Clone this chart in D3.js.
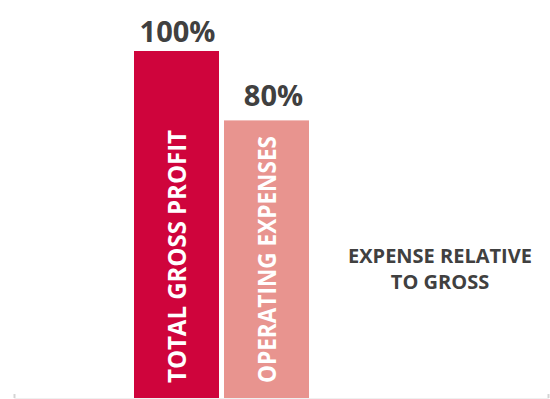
<!DOCTYPE html>
<html>
<head>
<meta charset="utf-8">
<script src="https://cdn.jsdelivr.net/npm/d3@7"></script>
<style>
  html, body { margin: 0; padding: 0; background: #fff; }
  svg { display: block; font-family: "Open Sans", "Noto Sans", sans-serif; }
</style>
</head>
<body>
<svg id="chart" width="550" height="399"></svg>
<script>
// Series shown as bars, with their values in percent
const series = ["TOTAL GROSS PROFIT", "OPERATING EXPENSES"];
const values = [100, 80];
const valueLabels = ["100%", "80%"];
const colors = ["#cf043c", "#e8948f"];
const categoryLabel = ["EXPENSE RELATIVE", "TO GROSS"];

// Text layout: offsets of each value label from its bar, and run length of the vertical names
const labelGaps = [9.5, 14];
const labelShifts = [1, 7];
const nameLengths = [253, 247];

const baseY = 398;
const svg = d3.select("#chart");

const x = d3.scaleBand()
  .domain(series)
  .range([134, 309])
  .paddingInner(5 / 90)
  .paddingOuter(0);

const y = d3.scaleLinear()
  .domain([0, 100])
  .range([baseY, 51]);

// Baseline axis across the plot area
const axisScale = d3.scaleLinear().domain([0, 1]).range([14, 548]);
const axis = svg.append("g")
  .attr("transform", `translate(0,${baseY})`)
  .call(d3.axisTop(axisScale).tickValues([0, 1]).tickSize(4).tickFormat(""));
axis.select(".domain").attr("stroke", "#f0f0f0");
axis.selectAll(".tick line").attr("stroke", "#d4d4d4").attr("stroke-width", 2);

// Bars
const data = series.map((s, i) => ({
  s, v: values[i], label: valueLabels[i], color: colors[i],
  gap: labelGaps[i], shift: labelShifts[i], len: nameLengths[i]
}));

svg.selectAll("rect.bar")
  .data(data)
  .join("rect")
  .attr("class", "bar")
  .attr("x", d => x(d.s))
  .attr("y", d => y(d.v))
  .attr("width", x.bandwidth())
  .attr("height", d => y(0) - y(d.v))
  .attr("fill", d => d.color);

// Value labels above the bars
svg.selectAll("text.value")
  .data(data)
  .join("text")
  .attr("class", "value")
  .attr("x", d => x(d.s) + x.bandwidth() / 2 + d.shift)
  .attr("y", d => y(d.v) - d.gap)
  .attr("text-anchor", "middle")
  .attr("font-size", 29)
  .attr("font-weight", 700)
  .attr("fill", "#404040")
  .text(d => d.label);

// Series names written vertically inside the bars
svg.selectAll("text.name")
  .data(data)
  .join("text")
  .attr("class", "name")
  .attr("transform", d => `translate(${x(d.s) + x.bandwidth() / 2 + 0.5},${baseY - 15}) rotate(-90)`)
  .attr("dy", "0.36em")
  .attr("font-size", 24.5)
  .attr("font-weight", 700)
  .attr("fill", "#ffffff")
  .attr("textLength", d => d.len)
  .attr("lengthAdjust", "spacingAndGlyphs")
  .text(d => d.s);

// Category label
svg.append("text")
  .attr("x", 440)
  .attr("y", 263)
  .attr("text-anchor", "middle")
  .attr("font-size", 20)
  .attr("font-weight", 700)
  .attr("fill", "#404040")
  .selectAll("tspan")
  .data(categoryLabel)
  .join("tspan")
  .attr("x", 440)
  .attr("dy", (d, i) => i === 0 ? 0 : 26)
  .text(d => d);
</script>
</body>
</html>
